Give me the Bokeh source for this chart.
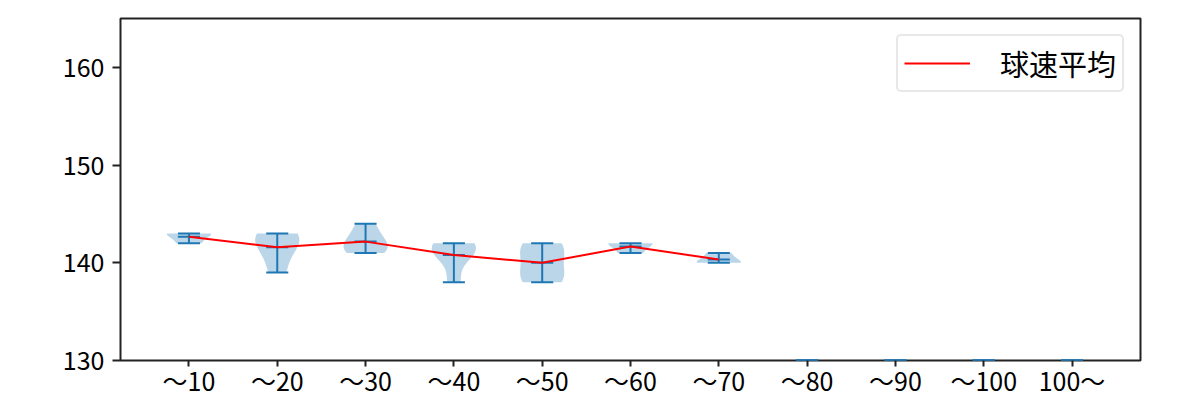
import numpy as np
from bokeh.plotting import figure
from bokeh.models import FixedTicker, Range1d, Legend, LegendItem
from bokeh.embed import file_html
from bokeh.resources import INLINE

# ---- data ----
categories = ["〜10", "〜20", "〜30", "〜40", "〜50", "〜60", "〜70", "〜80", "〜90", "〜100", "100〜"]
speeds_10 = [143, 143, 142]
speeds_20 = [143, 143, 142, 141, 139]
speeds_30 = [141, 141, 142, 142, 143, 144]
speeds_40 = [142, 142, 141, 141, 138]
speeds_50 = [138, 138, 139, 140, 141, 142, 142]
speeds_60 = [142, 142, 141]
speeds_70 = [141, 140, 140]
empty_placeholder = [130]
samples = [speeds_10, speeds_20, speeds_30, speeds_40, speeds_50, speeds_60, speeds_70,
           empty_placeholder, empty_placeholder, empty_placeholder, empty_placeholder]
y_ticks = [130, 140, 150, 160]
legend_label = "球速平均"

positions = list(range(1, len(categories) + 1))

BLUE = "#1f77b4"
FONT = "Noto Sans CJK JP"

p = figure(width=1200, height=400, output_backend="svg", toolbar_location=None,
           x_range=Range1d(0.225, 11.775), y_range=Range1d(130, 165),
           min_border_left=120, min_border_right=60, min_border_top=18, min_border_bottom=40)
p.background_fill_color = "white"
p.border_fill_color = "white"
p.outline_line_color = "#222222"
p.outline_line_width = 2
p.grid.visible = False


def kde(data, pts):
    d = np.asarray(data, dtype=float)
    n = len(d)
    bw = n ** (-0.2) * np.std(d, ddof=1)
    z = (pts[:, None] - d[None, :]) / bw
    return np.exp(-0.5 * z ** 2).sum(axis=1) / (n * bw * np.sqrt(2 * np.pi))


xs_list, ys_list = [], []
cap_x0, cap_x1, cap_y = [], [], []
bar_x, bar_y0, bar_y1 = [], [], []
means_pos, means_val = [], []
for pos, data in zip(positions, samples):
    lo, hi, mu = min(data), max(data), float(np.mean(data))
    if len(data) > 1:
        coords = np.linspace(lo, hi, 100)
        vals = kde(data, coords)
        vals = 0.25 * vals / vals.max()
        xs_list.append(list(pos - vals) + list((pos + vals)[::-1]))
        ys_list.append(list(coords) + list(coords[::-1]))
        means_pos.append(pos)
        means_val.append(mu)
    for yv in (lo, hi, mu):
        cap_x0.append(pos - 0.125)
        cap_x1.append(pos + 0.125)
        cap_y.append(yv)
    bar_x.append(pos)
    bar_y0.append(lo)
    bar_y1.append(hi)

p.patches(xs_list, ys_list, fill_color=BLUE, fill_alpha=0.3, line_color=None)
p.segment(x0=cap_x0, x1=cap_x1, y0=cap_y, y1=cap_y, line_color=BLUE, line_width=2)
p.segment(x0=bar_x, x1=bar_x, y0=bar_y0, y1=bar_y1, line_color=BLUE, line_width=2)
mean_line = p.line(means_pos, means_val, line_color="red", line_width=2)

legend = Legend(items=[LegendItem(label=legend_label, renderers=[mean_line])],
                location="top_right")
legend.label_text_font = FONT
legend.label_text_font_size = "29px"
legend.label_text_color = "black"
legend.glyph_width = 66
legend.glyph_height = 30
legend.label_standoff = 30
legend.padding = 6
legend.margin = 16
legend.border_line_color = "#d0d0d0"
legend.border_line_width = 2
legend.border_radius = 5
legend.background_fill_alpha = 0.8
p.add_layout(legend)

p.xaxis.ticker = FixedTicker(ticks=positions)
p.xaxis.major_label_overrides = {pos: lab for pos, lab in zip(positions, categories)}
p.yaxis.ticker = FixedTicker(ticks=y_ticks)
for ax in (p.xaxis, p.yaxis):
    ax.major_label_text_font = FONT
    ax.major_label_text_font_size = "25px"
    ax.major_label_text_color = "black"
    ax.axis_line_color = None
    ax.major_tick_line_color = "#222222"
    ax.major_tick_line_width = 2
    ax.major_tick_in = 0
    ax.minor_tick_line_color = None
p.xaxis.major_tick_out = 6
p.xaxis.major_label_standoff = -5
p.yaxis.major_tick_out = 8
p.yaxis.major_label_standoff = 8

open("out.html", "w").write(file_html(p, INLINE))
